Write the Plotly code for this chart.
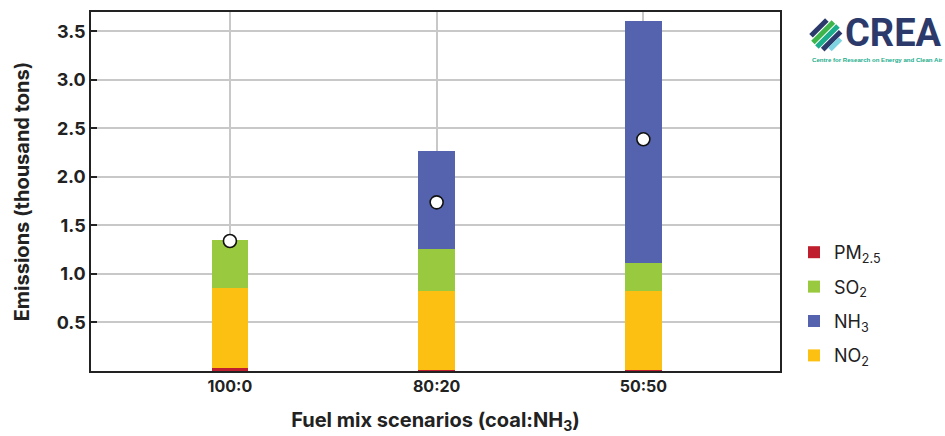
import math
import plotly.graph_objects as go

# ---- data ----
scenarios = ["100:0", "80:20", "50:50"]
pm25 = [0.03, 0.015, 0.015]
no2 = [0.825, 0.806, 0.806]
so2 = [0.496, 0.434, 0.29]
nh3 = [0.0, 1.013, 2.50]
dots = [1.34, 1.738, 2.388]
y_ticks = [0.5, 1.0, 1.5, 2.0, 2.5, 3.0, 3.5]

colors = {"PM": "#BE1E2D", "NO2": "#FCC012", "SO2": "#99C93E", "NH3": "#5563AE"}

W, H = 945, 436
ML, MR, MT, MB = 91, 165, 12, 65
PW, PH = W - ML - MR, H - MT - MB


def px(x):
    return (x - ML) / PW


def py(y):
    return (H - MB - y) / PH


FONT = "Inter, Roboto, Arial, sans-serif"
TXT = "#222222"

fig = go.Figure()
bw = 0.178
fig.add_trace(go.Bar(x=scenarios, y=pm25, name="PM<sub>2.5</sub>", marker_color=colors["PM"],
                     width=bw, legendrank=1, legendgroup="a", marker_line_width=0))
fig.add_trace(go.Bar(x=scenarios, y=no2, name="NO<sub>2</sub>", marker_color=colors["NO2"],
                     width=bw, legendrank=4, legendgroup="d", marker_line_width=0))
fig.add_trace(go.Bar(x=scenarios, y=so2, name="SO<sub>2</sub>", marker_color=colors["SO2"],
                     width=bw, legendrank=2, legendgroup="b", marker_line_width=0))
fig.add_trace(go.Bar(x=scenarios, y=nh3, name="NH<sub>3</sub>", marker_color=colors["NH3"],
                     width=bw, legendrank=3, legendgroup="c", marker_line_width=0))
fig.add_trace(go.Scatter(x=scenarios, y=dots, mode="markers", showlegend=False,
                         marker=dict(size=13, color="white", line=dict(color="#111111", width=1.6))))

fig.update_layout(
    width=W, height=H,
    margin=dict(l=ML, r=MR, t=MT, b=MB, autoexpand=False),
    barmode="stack",
    plot_bgcolor="white", paper_bgcolor="white",
    font=dict(family=FONT, color=TXT, size=16),
    legend=dict(x=px(794), y=py(234), xanchor="left", yanchor="top",
                font=dict(size=18, color=TXT), tracegroupgap=8,
                bgcolor="rgba(0,0,0,0)"),
)
fig.update_xaxes(
    range=[-0.672, 2.661], automargin=False,
    showgrid=True, gridcolor="#c8c8c8", gridwidth=1.5,
    showline=True, linecolor="#222222", linewidth=2, mirror=True,
    ticks="", tickfont=dict(size=16, family=FONT, weight="bold", color=TXT),
    title=dict(text="Fuel mix scenarios (coal:NH<sub>3</sub>)",
               font=dict(size=20, family=FONT, weight="bold", color=TXT), standoff=18),
)
fig.update_yaxes(
    range=[0, 3.70], automargin=False,
    tickvals=y_ticks, ticktext=[f"{v:.1f}" for v in y_ticks],
    showgrid=True, gridcolor="#c8c8c8", gridwidth=1.5,
    showline=True, linecolor="#222222", linewidth=1.5, mirror=True,
    ticks="inside", ticklen=6, tickcolor="#222222", tickwidth=1.5,
    zeroline=False,
    tickfont=dict(size=18, family=FONT, weight="bold", color=TXT),
    title=dict(text="Emissions (thousand tons)",
               font=dict(size=20, family=FONT, weight="bold", color=TXT), standoff=22),
)

# ---- CREA logo (text + simple striped mark) ----
NAVY = "#2B3A6B"
fig.add_annotation(xref="paper", yref="paper", x=px(843), y=py(33), xanchor="left", yanchor="middle",
                   text="<b>CREA</b>", showarrow=False,
                   font=dict(size=38, family="Roboto, Arial, sans-serif", color=NAVY))
fig.add_annotation(xref="paper", yref="paper", x=px(810), y=py(60), xanchor="left", yanchor="middle",
                   text="<b>Centre for Research on Energy and Clean Air</b>",
                   showarrow=False, font=dict(size=6.1, family="Arial, sans-serif", color="#1AAE8C"))
cx, cy, r = 826, 35, 15
stripes = [(-10, NAVY), (-4, "#3DB54A"), (2, "#1AAE8C"), (8, NAVY), (13, "#7FD3E0")]
for off, col in stripes:
    half = math.sqrt(max(r * r - off * off, 0))
    ux, uy = 1 / math.sqrt(2), -1 / math.sqrt(2)
    nx, ny = 1 / math.sqrt(2), 1 / math.sqrt(2)
    x0 = cx + nx * off - ux * half
    y0 = cy + ny * off - uy * half
    x1 = cx + nx * off + ux * half
    y1 = cy + ny * off + uy * half
    fig.add_shape(type="line", xref="paper", yref="paper",
                  x0=px(x0), y0=py(y0), x1=px(x1), y1=py(y1),
                  line=dict(color=col, width=5))

fig.write_html("out.html", config={"displayModeBar": False},
               post_script="document.body.style.margin='0';")
